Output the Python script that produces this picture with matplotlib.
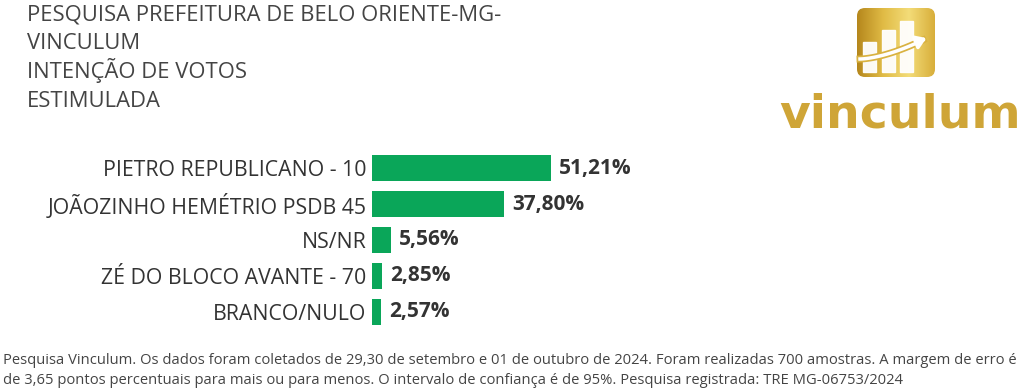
import numpy as np
import matplotlib
matplotlib.use("Agg")
from matplotlib import pyplot as plt
from matplotlib.patches import FancyBboxPatch, Rectangle

categories = ["PIETRO REPUBLICANO - 10", "JOÃOZINHO HEMÉTRIO PSDB 45", "NS/NR",
              "ZÉ DO BLOCO AVANTE - 70", "BRANCO/NULO"]
values = [51.21, 37.80, 5.56, 2.85, 2.57]
value_labels = ["51,21%", "37,80%", "5,56%", "2,85%", "2,57%"]

title_lines = ["PESQUISA PREFEITURA DE BELO ORIENTE-MG-", "VINCULUM",
               "INTENÇÃO DE VOTOS", "ESTIMULADA"]
footer_lines = [
    "Pesquisa Vinculum. Os dados foram coletados de 29,30 de setembro e 01 de outubro de 2024. "
    "Foram realizadas 700 amostras. A margem de erro é",
    "de 3,65 pontos percentuais para mais ou para menos. O intervalo de confiança é de 95%. "
    "Pesquisa registrada: TRE MG-06753/2024",
]

plt.rcParams['font.family'] = ['Open Sans', 'DejaVu Sans']
W, H = 1024, 391
fig = plt.figure(figsize=(W / 100, H / 100), dpi=100)
fig.patch.set_facecolor('white')

green = '#0aa659'
txt = '#333333'

# bar chart
ax = fig.add_axes([372 / W, (H - 330) / H, 350 / W, 180 / H])
y = np.arange(len(categories))
ax.barh(y, values, height=0.7, color=green)
ax.set_xlim(0, 100)
ax.set_ylim(len(categories) - 0.5, -0.5)
ax.set_yticks(y)
ax.set_yticklabels(categories, fontsize=15.3, color=txt)
ax.tick_params(axis='y', length=0, pad=4)
ax.set_xticks([])
for s in ax.spines.values():
    s.set_visible(False)
for yi, v, lab in zip(y, values, value_labels):
    ax.text(v + 2.2, yi, lab, va='center', ha='left', fontsize=15,
            fontweight='bold', color=txt)

# title
for i, line in enumerate(title_lines):
    fig.text(27 / W, 1 - (20 + i * 29) / H, line, fontsize=15.8, color='#444444',
             va='baseline', ha='left')

# footer
for i, line in enumerate(footer_lines):
    fig.text(3 / W, 1 - (361 + i * 19) / H, line, fontsize=10.65, color='#444444',
             va='center', ha='left')

# logo
lax = fig.add_axes([760 / W, 0, 264 / W, 1], facecolor='none')
lax.set_xlim(0, 264)
lax.set_ylim(H, 0)
lax.axis('off')
grad = np.linspace(0, 1, 256).reshape(1, -1) * np.ones((64, 1))
gold = matplotlib.colors.LinearSegmentedColormap.from_list(
    'gold', ['#b5871c', '#e0bb45', '#f3dc78', '#d8ae3a'])
box = FancyBboxPatch((97, 8), 78, 69, boxstyle='round,pad=0,rounding_size=8',
                     facecolor='none', edgecolor='none')
lax.add_patch(box)
im = lax.imshow(grad, cmap=gold, extent=(97, 175, 77, 8), aspect='auto')
im.set_clip_path(box)
for bx, top in [(103, 42), (122, 30), (140, 21)]:
    lax.add_patch(Rectangle((bx, top), 13, 72 - top, color='white', alpha=0.95))
xs = np.linspace(100, 163, 50)
lax.plot(xs, 59 - 19 * ((xs - 100) / 63) ** 1.6, color='#d9b240', lw=5)
lax.plot(xs, 59 - 19 * ((xs - 100) / 63) ** 1.6, color='white', lw=2.5)
lax.annotate('', xy=(169, 37), xytext=(158, 41.5),
             arrowprops=dict(arrowstyle='-|>,head_width=0.4,head_length=0.6',
                             color='white', lw=2.5))
lax.text(140, 127, 'vinculum', fontsize=34, fontweight='bold', color='#cfa537',
         ha='center', va='baseline', family=['DejaVu Sans'])

fig.savefig('out.png', dpi=100, facecolor='white')
